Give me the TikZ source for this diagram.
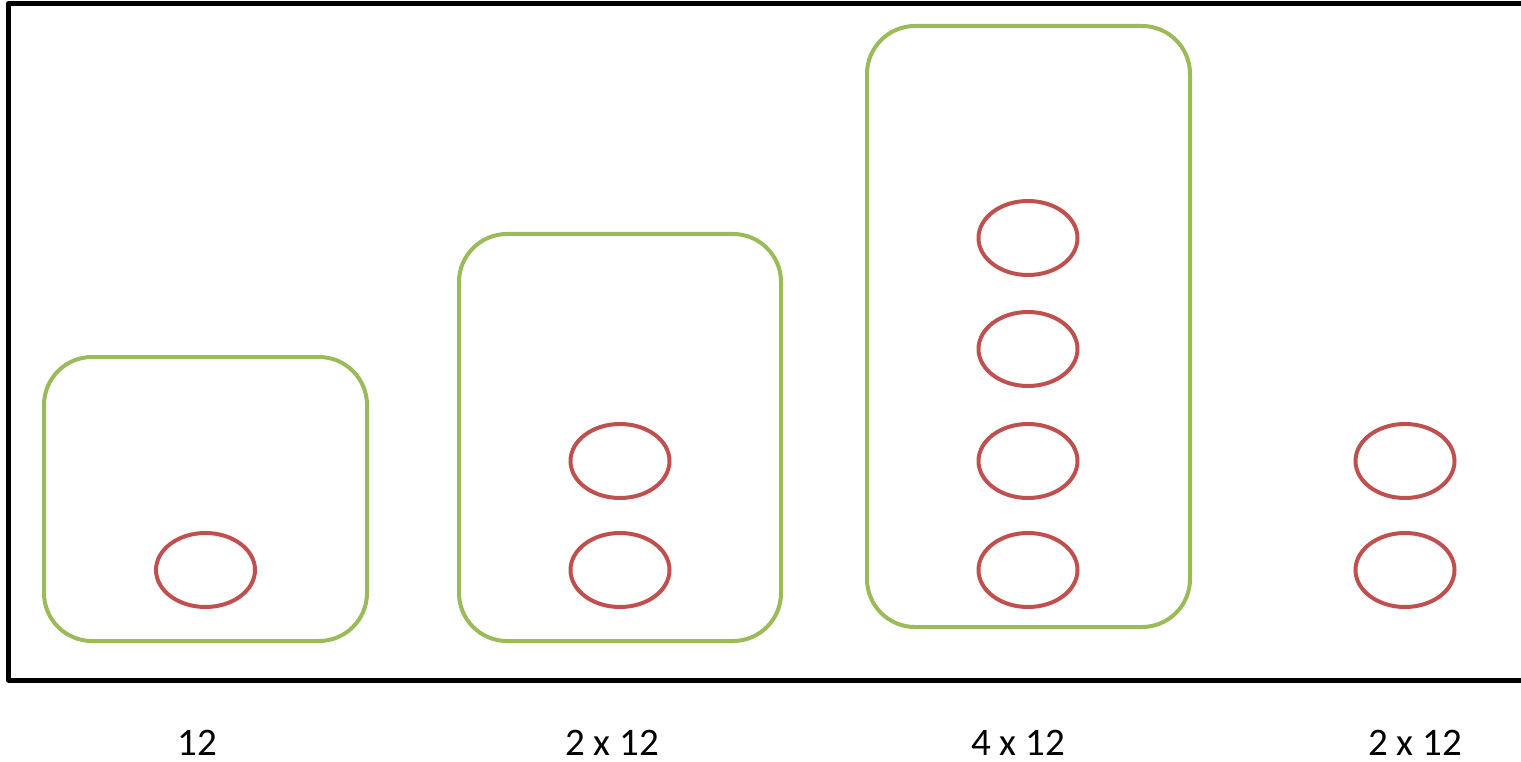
\documentclass[tikz,border=0pt]{standalone}
\usepackage{fontspec}
\setmainfont{Carlito}
\usetikzlibrary{shapes.geometric}

\definecolor{boxgreen}{HTML}{9BBB59}
\definecolor{cellred}{HTML}{C0504D}

\tikzset{
	group/.style = {draw = boxgreen, line width = 4pt, rounded corners = 48pt, inner sep = 0pt},
	cell/.style = {ellipse, draw = cellred, line width = 4pt, minimum width = 99pt, minimum height = 74pt, inner sep = 0pt},
	count/.style = {font = \fontsize{39}{39}\selectfont, inner sep = 0pt}
}

\begin{document}
\begin{tikzpicture}[x = 1pt, y = -1pt]
		\useasboundingbox (0,0) rectangle (1521,762);
		
		\draw [line width = 5pt, line join = round] (1540,3.5) -- (8.5,3.5) -- (8.5,680) -- (1540,680);
		
		% groups
		\node [group, minimum width = 323pt, minimum height = 284pt] (g1) at (205.5,499) {};
		\node [group, minimum width = 322pt, minimum height = 407pt] (g2) at (620,437.5) {};
		\node [group, minimum width = 323pt, minimum height = 601pt] (g3) at (1028.5,326.5) {};
		
		% cells
		\node [cell] (c1) at (205.5,570) {};
		
		\node [cell] (c21) at (620,461) {};
		\node [cell] (c22) at (620,570) {};
		
		\node [cell] (c31) at (1028,238) {};
		\node [cell] (c32) at (1028,349) {};
		\node [cell] (c33) at (1028,461) {};
		\node [cell] (c34) at (1028,570) {};
		
		\node [cell] (c41) at (1405,461) {};
		\node [cell] (c42) at (1405,570) {};
		
		% labels
		\node [count] (l1) at (197,743) {12};
		\node [count] (l2) at (612,743) {2 x 12};
		\node [count] (l3) at (1018,743) {4 x 12};
		\node [count] (l4) at (1415,743) {2 x 12};
	\end{tikzpicture}
\end{document}
